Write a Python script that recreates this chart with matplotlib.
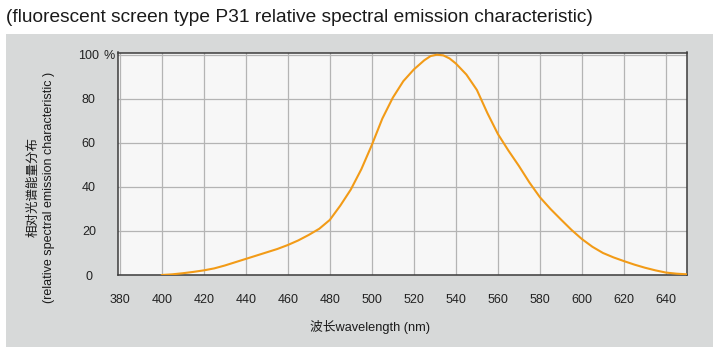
import matplotlib
matplotlib.use("Agg")
import matplotlib.pyplot as plt
from matplotlib.patches import Rectangle

plt.rcParams['font.family'] = ['Liberation Sans', 'Noto Sans CJK SC', 'DejaVu Sans']

# values (P31 phosphor), every 5 nm
wavelength = [400, 405, 410, 415, 420, 425, 430, 435, 440, 445, 450, 455, 460,
              465, 470, 475, 480, 485, 490, 495, 500, 505, 510, 515, 520, 525,
              528, 531, 534, 537, 540, 545, 550, 555, 560, 565, 570, 575, 580,
              585, 590, 595, 600, 605, 610, 615, 620, 625, 630, 635, 640, 645,
              650]
emission = [0, 0.3, 0.8, 1.4, 2.1, 3.0, 4.3, 5.8, 7.3, 8.8, 10.3, 11.8, 13.6,
            15.7, 18.2, 21.0, 25.0, 31.5, 38.8, 48.0, 59.0, 71.0, 80.5, 88.0,
            93.3, 97.5, 99.4, 100, 99.7, 98.3, 96.0, 91.0, 84.0, 73.5, 64.0,
            56.5, 49.5, 42.0, 35.3, 30.0, 25.2, 20.5, 16.3, 12.8, 10.0, 8.0,
            6.3, 4.7, 3.3, 2.1, 1.1, 0.6, 0.3]

x_ticks = [380, 400, 420, 440, 460, 480, 500, 520, 540, 560, 580, 600, 620, 640]
y_ticks = [0, 20, 40, 60, 80, 100]

fig = plt.figure(figsize=(7.2, 3.64), dpi=100)
fig.patch.set_facecolor('white')

# grey panel behind the chart
fig.patches.append(Rectangle((6 / 720, 17 / 364), 707 / 720, 313 / 364,
                             transform=fig.transFigure, facecolor='#d7d9d9',
                             edgecolor='none', zorder=-1))

ax = fig.add_axes([118 / 720, 89 / 364, 569 / 720, 222.5 / 364])
ax.set_zorder(1)
ax.set_facecolor('#f7f7f7')

ax.plot(wavelength, emission, color='#f29b17', lw=1.5, zorder=3,
        solid_capstyle='round', solid_joinstyle='round')

ax.set_xlim(379.2, 650)
ax.set_ylim(0, 101)
ax.set_xticks(x_ticks)
ax.set_yticks(y_ticks)
ax.set_xticklabels([str(v) for v in x_ticks])
ax.set_yticklabels([str(v) for v in y_ticks])
ax.tick_params(axis='both', length=0, labelsize=9, colors='#222222')
ax.tick_params(axis='x', pad=14)
ax.tick_params(axis='y', pad=21)
for lab in ax.get_yticklabels():
    lab.set_horizontalalignment('center')

ax.grid(True, color='#b4b4b4', lw=0.9)
ax.set_axisbelow(True)
for s in ax.spines.values():
    s.set_color('#3c3c3c')
    s.set_linewidth(1.1)

fig.text(104 / 720, 1 - 56 / 364, '%', fontsize=9, color='#222222',
         ha='left', va='center', zorder=2)

fig.text(6 / 720, 1 - 17 / 364,
         '(fluorescent screen type P31 relative spectral emission characteristic)',
         fontsize=13.8, color='#1a1a1a', ha='left', va='center')

fig.text(370 / 720, 1 - 327 / 364, '波长wavelength (nm)', fontsize=9.2,
         color='#1a1a1a', ha='center', va='center', zorder=2)

fig.text(41 / 720, 1 - 187 / 364,
         '相对光谱能量分布\n(relative spectral emission characteristic )',
         fontsize=9, color='#1a1a1a', rotation=90, ha='center', va='center',
         multialignment='center', linespacing=1.45, zorder=2)

fig.savefig('out.png', dpi=100)
